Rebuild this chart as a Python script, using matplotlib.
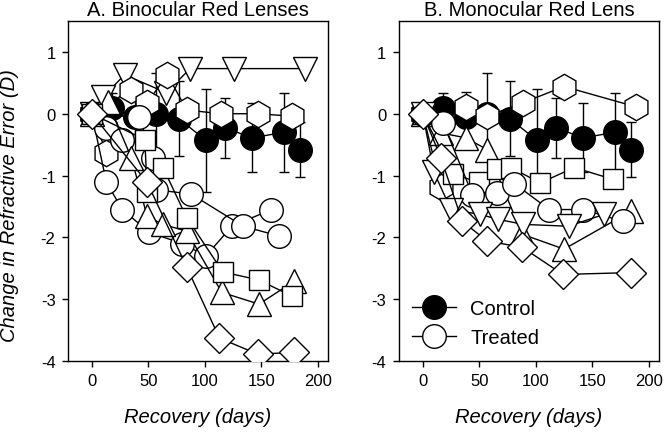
import matplotlib.pyplot as plt

plt.rcParams['font.family'] = ['Liberation Sans', 'DejaVu Sans']
plt.rcParams['axes.unicode_minus'] = False

# Control group (same in both panels)
ctrl_days = [0, 18, 38, 57, 77, 101, 118, 142, 170, 184]
ctrl_vals = [0, 0.10, -0.05, 0.0, -0.08, -0.43, -0.23, -0.39, -0.30, -0.58]
ctrl_err = [0, 0.24, 0.40, 0.66, 0.61, 0.83, 0.48, 0.56, 0.64, 0.45]

# Panel A - binocular red lenses (treated eyes)
a_vtri_days = [0, 10, 29, 66, 87, 126, 189]
a_vtri_vals = [0, 0.27, 0.63, 0.34, 0.73, 0.73, 0.73]
a_hex1_days = [0, 35, 49, 67, 84, 114, 147, 177]
a_hex1_vals = [0, 0.39, 0.18, 0.63, 0.06, 0.0, 0.0, -0.04]
a_hex2_days = [0, 13]
a_hex2_vals = [0, -0.63]
a_circ1_days = [0, 13, 27, 51, 80, 101, 124, 159]
a_circ1_vals = [0, -1.11, -1.55, -1.92, -2.10, -2.30, -1.82, -1.55]
a_circ2_days = [0, 13, 27, 57, 88, 134, 166]
a_circ2_vals = [0, -0.23, -0.42, -1.23, -1.30, -1.82, -1.98]
a_circ3_days = [0, 42, 54]
a_circ3_vals = [0, -0.06, -0.71]
a_tri_days = [0, 14, 35, 49, 63, 84, 115, 148, 179]
a_tri_vals = [0, 0.19, -0.71, -1.66, -1.79, -1.90, -2.89, -3.08, -2.71]
a_sq_days = [0, 47, 49, 63, 84, 116, 148, 177]
a_sq_vals = [0, -0.42, -1.27, -0.87, -1.68, -2.56, -2.69, -2.95]
a_dia_days = [0, 49, 84, 113, 147, 179]
a_dia_vals = [0, -1.11, -2.48, -3.63, -3.89, -3.86]

# Panel B - monocular red lens (treated eyes)
b_hex1_days = [0, 38, 57, 89, 125, 189]
b_hex1_vals = [0, 0.11, -0.04, 0.18, 0.44, 0.11]
b_hex2_days = [0, 16]
b_hex2_vals = [0, -1.18]
b_tri_days = [0, 16, 38, 57, 88, 125, 184]
b_tri_vals = [0, -0.31, -0.39, -0.58, -1.95, -2.19, -1.58]
b_sq_days = [0, 27, 50, 66, 78, 104, 134, 168]
b_sq_vals = [0, -0.98, -1.11, -0.90, -0.87, -1.12, -0.87, -1.06]
b_circ_days = [0, 18, 44, 66, 81, 112, 142, 177]
b_circ_vals = [0, -0.15, -1.31, -1.29, -1.13, -1.55, -1.55, -1.74]
b_vtri_days = [0, 10, 25, 51, 67, 89, 129, 160]
b_vtri_vals = [0, -0.95, -1.55, -1.63, -1.71, -1.79, -1.82, -1.63]
b_dia_days = [0, 16, 35, 57, 88, 124, 184]
b_dia_vals = [0, -0.71, -1.74, -2.06, -2.16, -2.60, -2.57]

x_ticks = [0, 50, 100, 150, 200]
y_ticks = [1, 0, -1, -2, -3, -4]

sizes = {'o': 17, 'h': 19, '^': 17, 'v': 17, 's': 15, 'D': 15}

series_a = [
    (a_vtri_days, a_vtri_vals, 'v'),
    (a_hex1_days, a_hex1_vals, 'h'),
    (a_hex2_days, a_hex2_vals, 'h'),
    (a_circ1_days, a_circ1_vals, 'o'),
    (a_circ2_days, a_circ2_vals, 'o'),
    (a_circ3_days, a_circ3_vals, 'o'),
    (a_tri_days, a_tri_vals, '^'),
    (a_sq_days, a_sq_vals, 's'),
    (a_dia_days, a_dia_vals, 'D'),
]
series_b = [
    (b_hex1_days, b_hex1_vals, 'h'),
    (b_hex2_days, b_hex2_vals, 'h'),
    (b_tri_days, b_tri_vals, '^'),
    (b_sq_days, b_sq_vals, 's'),
    (b_circ_days, b_circ_vals, 'o'),
    (b_vtri_days, b_vtri_vals, 'v'),
    (b_dia_days, b_dia_vals, 'D'),
]

fig = plt.figure(figsize=(6.64, 4.39), dpi=100)
ax_a = fig.add_axes([68 / 664, 1 - 362 / 439, 260 / 664, 340 / 439])
ax_b = fig.add_axes([399 / 664, 1 - 362 / 439, 260 / 664, 340 / 439])


def dibujar(ax, series, titulo):
    # control first, treated on top
    ax.errorbar(ctrl_days, ctrl_vals, yerr=ctrl_err, color='black', lw=1,
                marker='o', ms=17, mfc='black', mec='black', capsize=3.5,
                elinewidth=1, capthick=1, zorder=2)
    for dias, vals, mk in series:
        ax.plot(dias, vals, color='black', lw=1, marker=mk, ms=sizes[mk],
                mfc='white', mec='black', mew=1, zorder=3)
    ax.set_xlim(-21, 209)
    ax.set_ylim(-4, 1.5)
    ax.set_xticks(x_ticks)
    ax.set_yticks(y_ticks)
    ax.tick_params(direction='out', length=4, width=1, labelsize=12, pad=5)
    ax.set_title(titulo, fontsize=14.5, pad=4)
    ax.set_xlabel('Recovery (days)', fontsize=14.5, style='italic')
    ax.xaxis.set_label_coords(0.5, -0.135)
    for s in ax.spines.values():
        s.set_linewidth(1)


dibujar(ax_a, series_a, 'A. Binocular Red Lenses')
dibujar(ax_b, series_b, 'B. Monocular Red Lens')

ax_a.set_ylabel('Change in Refractive Error (D)', fontsize=14.5, style='italic')
ax_a.yaxis.set_label_coords(-0.19, 0.46)

h_ctrl, = ax_b.plot([], [], color='black', lw=1, marker='o', ms=17,
                    mfc='black', mec='black')
h_trat, = ax_b.plot([], [], color='black', lw=1, marker='o', ms=17,
                    mfc='white', mec='black')
ax_b.legend([h_ctrl, h_trat], ['Control', 'Treated'], loc='lower left',
            bbox_to_anchor=(0.05, 0.04), frameon=False, fontsize=14.5,
            handlelength=2.2, handletextpad=0.7, labelspacing=0.5,
            borderpad=0, borderaxespad=0)

fig.savefig('out.png', dpi=100)
